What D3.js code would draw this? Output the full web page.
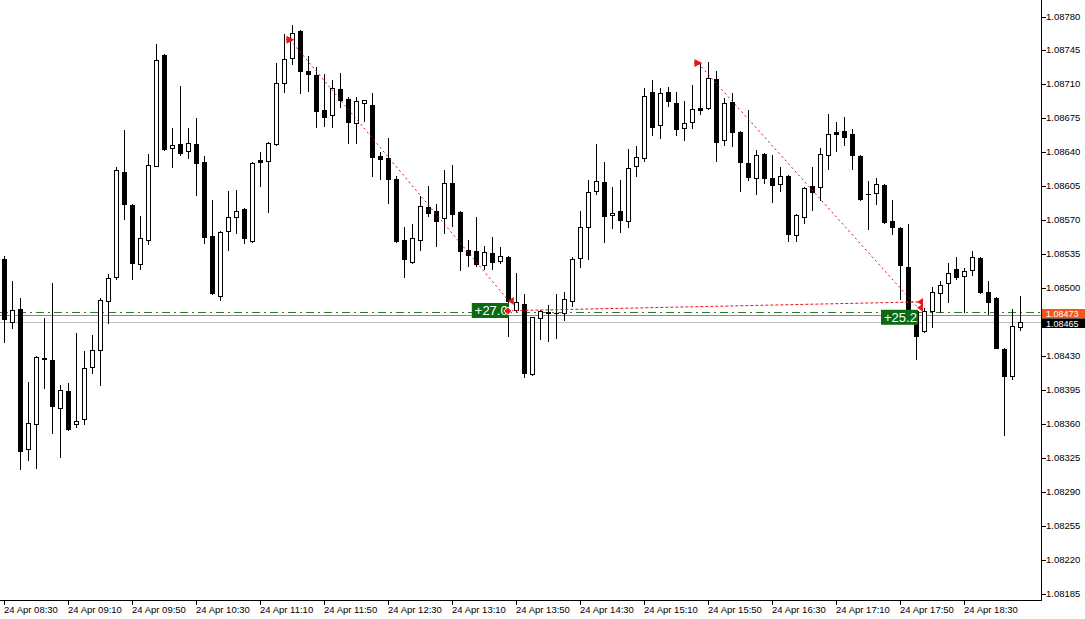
<!DOCTYPE html>
<html><head><meta charset="utf-8">
<script src="https://cdn.jsdelivr.net/npm/d3@7"></script>
<style>
body{margin:0;background:#fff;}
svg{display:block;}
text{font-family:"Liberation Sans",Arial,sans-serif;}
</style>
</head><body>
<svg id="chart" width="1085" height="619"></svg>
<script>
// ---- DATA (EURUSD M5, 24 Apr) ----
const open = [
1.08530,1.08465,1.08479,1.08335,1.08360,1.08428,1.08426,1.08377,1.08394,1.08360,
1.08365,1.08419,1.08437,1.08487,1.08512,1.08620,1.08586,1.08525,1.08550,1.08626,
1.08740,1.08645,1.08649,1.08641,1.08649,1.08630,1.08554,1.08492,1.08559,1.08573,
1.08582,1.08549,1.08632,1.08631,1.08649,1.08711,1.08737,1.08765,1.08724,1.08720,
1.08684,1.08679,1.08705,1.08695,1.08670,1.08691,1.08689,1.08636,1.08634,1.08613,
1.08550,1.08527,1.08550,1.08584,1.08580,1.08572,1.08609,1.08579,1.08539,1.08538,
1.08524,1.08536,1.08528,1.08532,1.08478,1.08484,1.08412,1.08469,1.08476,1.08475,
1.08475,1.08487,1.08531,1.08563,1.08600,1.08610,1.08576,1.08580,1.08569,1.08626,
1.08634,1.08702,1.08668,1.08702,1.08691,1.08665,1.08671,1.08686,1.08686,1.08716,
1.08653,1.08692,1.08661,1.08629,1.08614,1.08638,1.08614,1.08607,1.08616,1.08555,
1.08573,1.08605,1.08604,1.08637,1.08661,1.08662,1.08659,1.08636,1.08597,1.08598,
1.08606,1.08569,1.08562,1.08522,1.08477,1.08456,1.08477,1.08495,1.08506,1.08520,
1.08513,1.08519,1.08531,1.08496,1.08490,1.08438,1.08410,1.08460];
const high = [
1.08533,1.08508,1.08490,1.08404,1.08430,1.08469,1.08505,1.08400,1.08402,1.08454,
1.08435,1.08452,1.08490,1.08515,1.08625,1.08663,1.08587,1.08575,1.08638,1.08752,
1.08741,1.08665,1.08708,1.08665,1.08675,1.08636,1.08591,1.08559,1.08600,1.08601,
1.08583,1.08630,1.08640,1.08651,1.08732,1.08762,1.08771,1.08766,1.08739,1.08728,
1.08721,1.08715,1.08722,1.08697,1.08697,1.08694,1.08701,1.08640,1.08655,1.08616,
1.08563,1.08566,1.08595,1.08605,1.08587,1.08622,1.08627,1.08580,1.08550,1.08574,
1.08544,1.08553,1.08543,1.08533,1.08516,1.08494,1.08471,1.08478,1.08483,1.08494,
1.08496,1.08532,1.08580,1.08612,1.08649,1.08630,1.08604,1.08612,1.08644,1.08647,
1.08706,1.08715,1.08706,1.08707,1.08702,1.08693,1.08709,1.08732,1.08733,1.08724,
1.08696,1.08701,1.08662,1.08684,1.08642,1.08639,1.08637,1.08625,1.08617,1.08577,
1.08604,1.08625,1.08645,1.08680,1.08671,1.08677,1.08664,1.08637,1.08611,1.08614,
1.08607,1.08591,1.08563,1.08566,1.08478,1.08480,1.08501,1.08508,1.08526,1.08532,
1.08521,1.08538,1.08532,1.08508,1.08491,1.08439,1.08479,1.08492];
const low = [
1.08445,1.08459,1.08314,1.08323,1.08315,1.08397,1.08351,1.08326,1.08354,1.08357,
1.08360,1.08413,1.08400,1.08464,1.08510,1.08571,1.08510,1.08520,1.08546,1.08626,
1.08642,1.08625,1.08637,1.08634,1.08596,1.08547,1.08494,1.08488,1.08539,1.08557,
1.08547,1.08548,1.08605,1.08579,1.08648,1.08702,1.08731,1.08701,1.08703,1.08666,
1.08667,1.08666,1.08687,1.08650,1.08650,1.08672,1.08616,1.08613,1.08588,1.08548,
1.08512,1.08526,1.08539,1.08575,1.08544,1.08557,1.08564,1.08519,1.08523,1.08523,
1.08520,1.08520,1.08526,1.08451,1.08477,1.08409,1.08411,1.08448,1.08446,1.08449,
1.08467,1.08482,1.08522,1.08530,1.08597,1.08548,1.08562,1.08558,1.08563,1.08616,
1.08631,1.08658,1.08655,1.08688,1.08658,1.08653,1.08665,1.08680,1.08685,1.08631,
1.08648,1.08647,1.08600,1.08612,1.08597,1.08608,1.08589,1.08600,1.08549,1.08549,
1.08567,1.08581,1.08591,1.08623,1.08641,1.08648,1.08623,1.08591,1.08561,1.08587,
1.08567,1.08556,1.08489,1.08476,1.08427,1.08455,1.08460,1.08476,1.08486,1.08510,
1.08476,1.08514,1.08495,1.08474,1.08439,1.08349,1.08407,1.08457];
const close = [
1.08468,1.08478,1.08332,1.08361,1.08429,1.08427,1.08379,1.08395,1.08355,1.08363,
1.08418,1.08436,1.08488,1.08511,1.08622,1.08587,1.08526,1.08552,1.08627,1.08735,
1.08644,1.08648,1.08639,1.08650,1.08629,1.08553,1.08495,1.08558,1.08574,1.08580,
1.08552,1.08629,1.08630,1.08650,1.08712,1.08736,1.08763,1.08724,1.08721,1.08683,
1.08677,1.08706,1.08694,1.08671,1.08693,1.08694,1.08635,1.08633,1.08613,1.08549,
1.08530,1.08552,1.08585,1.08578,1.08569,1.08609,1.08577,1.08538,1.08534,1.08525,
1.08537,1.08527,1.08533,1.08487,1.08486,1.08413,1.08470,1.08477,1.08475,1.08475,
1.08489,1.08530,1.08563,1.08599,1.08611,1.08575,1.08578,1.08570,1.08624,1.08635,
1.08698,1.08666,1.08701,1.08693,1.08664,1.08670,1.08685,1.08684,1.08717,1.08651,
1.08691,1.08661,1.08630,1.08615,1.08637,1.08614,1.08606,1.08616,1.08556,1.08576,
1.08603,1.08599,1.08638,1.08659,1.08659,1.08656,1.08637,1.08592,1.08597,1.08607,
1.08568,1.08563,1.08524,1.08477,1.08451,1.08477,1.08496,1.08503,1.08516,1.08512,
1.08518,1.08532,1.08496,1.08486,1.08439,1.08410,1.08461,1.08465];

const dayText = "24 Apr";
const firstBarTime = "08:30";
const barMinutes = 5;
const timeLabels = ["24 Apr 08:30","24 Apr 09:10","24 Apr 09:50","24 Apr 10:30","24 Apr 11:10",
  "24 Apr 11:50","24 Apr 12:30","24 Apr 13:10","24 Apr 13:50","24 Apr 14:30","24 Apr 15:10",
  "24 Apr 15:50","24 Apr 16:30","24 Apr 17:10","24 Apr 17:50","24 Apr 18:30"];
const priceTicks = [1.08780,1.08745,1.08710,1.08675,1.08640,1.08605,1.08570,1.08535,1.08500,
  1.08465,1.08430,1.08395,1.08360,1.08325,1.08290,1.08255,1.08220,1.08185];
const bidPrice = 1.08465;
const askPrice = 1.08473;
const orderPrice = 1.08476;
// closed trades: entry/exit as bar position + price
const tradeEntryBar = [35.75, 86.75];
const tradeEntryPrice = [1.08756, 1.08732];
const tradeExitBar = [63.1, 114.25];
const tradeExitPrice = [1.08487, 1.08480];
const tradeProfit = ["+27.0", "+25.2"];
const linkFromBar = 63.3, linkFromPrice = 1.08477, linkToBar = 114.25, linkToPrice = 1.08486;

// ---- LAYOUT ----
const plotRight = 1041, plotBottom = 600;
const svg = d3.select("#chart");
const x = d3.scaleLinear().domain([0, open.length - 1]).range([4, 1020]);
const y = d3.scaleLinear().domain([1.08179, 1.08797]).range([600, 0]);
const py = v => Math.round(y(v));

// bar times
const [h0, m0] = firstBarTime.split(":").map(Number);
const barTimes = open.map((_, i) => {
  const t = h0 * 60 + m0 + i * barMinutes;
  return dayText + " " + String(Math.floor(t / 60)).padStart(2, "0") + ":" + String(t % 60).padStart(2, "0");
});

svg.append("rect").attr("width", 1085).attr("height", 619).attr("fill", "#fff");

const g = svg.append("g");

// horizontal levels
g.append("line").attr("x1", 0).attr("x2", plotRight).attr("y1", py(bidPrice) + 0.5).attr("y2", py(bidPrice) + 0.5)
  .attr("stroke", "#c0c0c0").attr("stroke-width", 1);
g.append("line").attr("x1", 0).attr("x2", plotRight).attr("y1", py(orderPrice) + 0.5).attr("y2", py(orderPrice) + 0.5)
  .attr("stroke", "#2f7a2f").attr("stroke-width", 1).attr("stroke-dasharray", "8,4,2,4");
g.append("line").attr("x1", 0).attr("x2", plotRight).attr("y1", py(askPrice) + 0.5).attr("y2", py(askPrice) + 0.5)
  .attr("stroke", "#ee6a2a").attr("stroke-width", 1);

// candles
const idx = d3.range(open.length);
const cg = g.append("g").attr("shape-rendering", "crispEdges");
cg.selectAll("line.wick").data(idx).join("line").attr("class", "wick")
  .attr("x1", i => Math.round(x(i)) + 0.5).attr("x2", i => Math.round(x(i)) + 0.5)
  .attr("y1", i => py(high[i])).attr("y2", i => py(low[i]) + 1)
  .attr("stroke", "#000");
idx.forEach(i => {
  const cx = Math.round(x(i));
  const top = py(Math.max(open[i], close[i]));
  const bot = py(Math.min(open[i], close[i]));
  const bull = close[i] > open[i];
  if (bot - top < 1) {
    cg.append("line").attr("x1", cx - 2).attr("x2", cx + 3).attr("y1", top + 0.5).attr("y2", top + 0.5)
      .attr("stroke", "#000");
  } else {
    cg.append("rect").attr("x", cx - 1.5).attr("y", top + 0.5).attr("width", 4).attr("height", bot - top)
      .attr("fill", bull ? "#fff" : "#000").attr("stroke", "#000").attr("stroke-width", 1);
  }
});

// link dashed line
g.append("line").attr("x1", x(linkFromBar)).attr("y1", y(linkFromPrice)).attr("x2", x(linkToBar)).attr("y2", y(linkToPrice))
  .attr("stroke", "#e8141e").attr("stroke-width", 1).attr("stroke-dasharray", "3,2");

// trades
tradeProfit.forEach((p, k) => {
  const ex = x(tradeEntryBar[k]), ey = y(tradeEntryPrice[k]);
  const xx = x(tradeExitBar[k]), xy = y(tradeExitPrice[k]);
  g.append("line").attr("x1", ex).attr("y1", ey).attr("x2", xx).attr("y2", xy)
    .attr("stroke", "#d01020").attr("stroke-width", 1).attr("stroke-dasharray", "2,3");
  // entry arrow
  g.append("path").attr("transform", `translate(${ex},${ey})`)
    .attr("d", "M-3,-3 L3,0 L-3,3 Z M-4,0 L0,0").attr("fill", "#e8141e").attr("stroke", "#e8141e").attr("stroke-width", 1.2);
  // label
  const lw = 37, lh = 15;
  g.append("rect").attr("x", xx - lw).attr("y", xy + 2).attr("width", lw).attr("height", lh).attr("fill", "#0b6a12");
  g.append("text").attr("x", xx - lw + 3).attr("y", xy + 2 + lh / 2).attr("dy", "0.36em")
    .attr("fill", "#fff").attr("font-size", "13px").text(p);
  // exit markers
  g.append("path").attr("transform", `translate(${xx + 2},${xy})`).attr("d", "M3,-4 L3,4 L-3,0 Z").attr("fill", "#e8141e");
});
// markers at end of link line
g.append("path").attr("transform", `translate(${x(linkToBar) + 2},${y(linkToPrice)})`).attr("d", "M3,-4 L3,4 L-3,0 Z").attr("fill", "#e8141e");
g.append("path").attr("transform", `translate(${x(tradeExitBar[0]) - 1},${y(tradeExitPrice[0]) + 10})`)
  .attr("d", "M0,-4 L4,0 L0,4 L-4,0 Z").attr("fill", "#e8141e").attr("stroke", "#fff").attr("stroke-width", 1);

// axes lines
const ax = svg.append("g").attr("shape-rendering", "crispEdges");
ax.append("line").attr("x1", plotRight + 0.5).attr("x2", plotRight + 0.5).attr("y1", 0).attr("y2", plotBottom + 1).attr("stroke", "#000");
ax.append("line").attr("x1", 0).attr("x2", plotRight + 1).attr("y1", plotBottom + 0.5).attr("y2", plotBottom + 0.5).attr("stroke", "#000");

// price axis (the tick at the bid price is covered by the bid label)
priceTicks.forEach(v => {
  const yy = py(v);
  ax.append("line").attr("x1", plotRight).attr("x2", plotRight + 5).attr("y1", yy + 0.5).attr("y2", yy + 0.5).attr("stroke", "#000");
  if (Math.abs(v - bidPrice) < 1e-7) return;
  svg.append("text").attr("x", plotRight + 5).attr("y", yy).attr("dy", "0.35em").attr("font-size", "9.5px")
    .attr("fill", "#000").text(v.toFixed(5));
});
// ask & bid labels
svg.append("rect").attr("x", plotRight + 1).attr("y", py(askPrice) - 6).attr("width", 43).attr("height", 9.5).attr("fill", "#f2561c");
svg.append("text").attr("x", plotRight + 5).attr("y", py(askPrice) - 1.5).attr("dy", "0.35em").attr("font-size", "9px")
  .attr("fill", "#fff").text(askPrice.toFixed(5));
svg.append("rect").attr("x", plotRight + 1).attr("y", py(bidPrice) - 3.5).attr("width", 43).attr("height", 9.5).attr("fill", "#000");
svg.append("text").attr("x", plotRight + 5).attr("y", py(bidPrice) + 1.5).attr("dy", "0.35em").attr("font-size", "9px")
  .attr("fill", "#fff").text(bidPrice.toFixed(5));

// time axis
timeLabels.forEach(lbl => {
  const i = barTimes.indexOf(lbl);
  if (i < 0) return;
  const xx = Math.round(x(i));
  ax.append("line").attr("x1", xx + 0.5).attr("x2", xx + 0.5).attr("y1", plotBottom).attr("y2", plotBottom + 5).attr("stroke", "#000");
  svg.append("text").attr("x", xx).attr("y", 613).attr("font-size", "9.5px").attr("fill", "#000").text(lbl);
});
</script>
</body></html>
